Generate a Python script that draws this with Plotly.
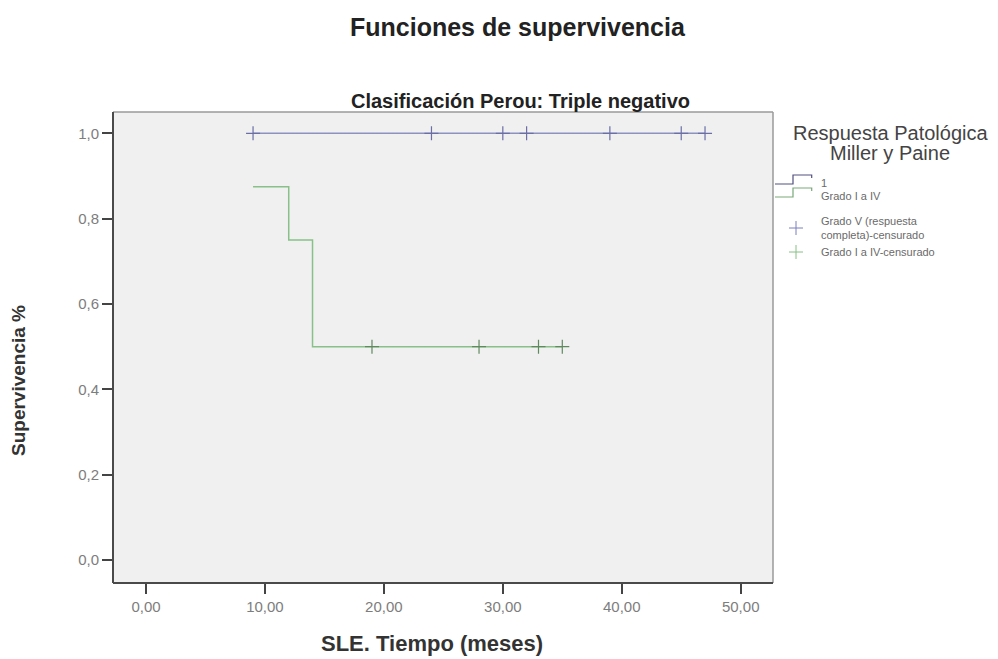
import plotly.graph_objects as go

# Kaplan-Meier curves, "Clasificación Perou: Triple negativo"
grado_v_t = [9, 47]
grado_v_s = [1.0, 1.0]
grado_v_cens_t = [9, 24, 30, 32, 39, 45, 47]

grado_iv_t = [9, 12, 14, 35]
grado_iv_s = [0.875, 0.75, 0.5, 0.5]
grado_iv_cens_t = [19, 28, 33, 35]

x_ticks = [0, 10, 20, 30, 40, 50]
y_ticks = [0.0, 0.2, 0.4, 0.6, 0.8, 1.0]

legend_title_lines = ["Respuesta Patológica", "Miller y Paine"]
legend_labels = ["1", "Grado I a IV", "Grado V (respuesta<br>completa)-censurado",
                 "Grado I a IV-censurado"]

BLUE_LINE = "#8e92bf"
BLUE_MARK = "#6b6fa6"
GREEN_LINE = "#88c088"
GREEN_MARK = "#5f8a5f"
FONT = "Liberation Sans, Arial, sans-serif"

W, H = 998, 659
L, R, T, B = 113, 225, 112, 76
PW, PH = W - L - R, H - T - B


def step_value(ts, ss, t):
    """Survival value of a right-continuous step curve at time t."""
    v = ss[0]
    for ti, si in zip(ts, ss):
        if ti <= t:
            v = si
    return v


def px(x):
    return (x - L) / PW


def py(y):
    return (H - B - y) / PH


fig = go.Figure()

fig.add_trace(go.Scatter(x=grado_v_t, y=grado_v_s, mode="lines", line_shape="hv",
                         line=dict(color=BLUE_LINE, width=1.5), hoverinfo="skip",
                         showlegend=False))
fig.add_trace(go.Scatter(x=grado_iv_t, y=grado_iv_s, mode="lines", line_shape="hv",
                         line=dict(color=GREEN_LINE, width=1.5), hoverinfo="skip",
                         showlegend=False))
fig.add_trace(go.Scatter(x=grado_v_cens_t,
                         y=[step_value(grado_v_t, grado_v_s, t) for t in grado_v_cens_t],
                         mode="markers",
                         marker=dict(symbol="cross-thin", size=10,
                                     line=dict(color=BLUE_MARK, width=1.2)),
                         showlegend=False))
fig.add_trace(go.Scatter(x=grado_iv_cens_t,
                         y=[step_value(grado_iv_t, grado_iv_s, t) for t in grado_iv_cens_t],
                         mode="markers",
                         marker=dict(symbol="cross-thin", size=10,
                                     line=dict(color=GREEN_MARK, width=1.2)),
                         showlegend=False))

x0 = (L - 146) / 11.894
x1 = (W - R - 146) / 11.894
y0 = (560 - (H - B)) / 426.7
y1 = (560 - T) / 426.7

axis_common = dict(showgrid=False, zeroline=False, ticks="outside", ticklen=10,
                   tickwidth=1.5, tickcolor="#444444",
                   tickfont=dict(family=FONT, size=15, color="#7d7d7d"),
                   showline=False)

fig.update_xaxes(range=[x0, x1], tickvals=x_ticks, tickformat=".2f", **axis_common)
fig.update_yaxes(range=[y0, y1], tickvals=y_ticks, tickformat=".1f", **axis_common)

shapes = [
    # frame: light top/right, dark left/bottom
    dict(type="line", xref="paper", yref="paper", x0=0, x1=1, y0=1, y1=1,
         line=dict(color="#9a9a9a", width=1.5)),
    dict(type="line", xref="paper", yref="paper", x0=1, x1=1, y0=0, y1=1,
         line=dict(color="#9a9a9a", width=1.5)),
    dict(type="line", xref="paper", yref="paper", x0=0, x1=0, y0=0, y1=1,
         line=dict(color="#4a4a4a", width=2)),
    dict(type="line", xref="paper", yref="paper", x0=0, x1=1, y0=0, y1=0,
         line=dict(color="#4a4a4a", width=2)),
]

# legend glyphs (step symbols and censor crosses)
def step_glyph(ybase, color):
    p = (f"M {px(775)},{py(ybase)} L {px(793)},{py(ybase)} L {px(793)},{py(ybase - 9)} "
         f"L {px(811.7)},{py(ybase - 9)} L {px(811.7)},{py(ybase - 6)}")
    return dict(type="path", xref="paper", yref="paper", path=p,
                line=dict(color=color, width=1.2))


def cross_glyph(cx, cy, color):
    return [
        dict(type="line", xref="paper", yref="paper", x0=px(cx - 7), x1=px(cx + 7),
             y0=py(cy), y1=py(cy), line=dict(color=color, width=1)),
        dict(type="line", xref="paper", yref="paper", x0=px(cx), x1=px(cx),
             y0=py(cy - 7), y1=py(cy + 7), line=dict(color=color, width=1)),
    ]


shapes.append(step_glyph(184, "#505080"))
shapes.append(step_glyph(197, "#7aa87a"))
shapes += cross_glyph(796, 228, "#7b7fc0")
shapes += cross_glyph(796, 252, "#86c086")

annotations = [
    dict(text="<b>Funciones de supervivencia</b>", x=px(518), y=py(27), xref="paper",
         yref="paper", showarrow=False, xanchor="center", yanchor="middle",
         font=dict(family=FONT, size=25, color="#222222")),
    dict(text="<b>Clasificación Perou: Triple negativo</b>", x=px(520), y=py(101),
         xref="paper", yref="paper", showarrow=False, xanchor="center", yanchor="middle",
         font=dict(family=FONT, size=20, color="#222222")),
    dict(text="<b>Supervivencia %</b>", x=px(18), y=py(380), xref="paper", yref="paper",
         showarrow=False, textangle=-90, xanchor="center", yanchor="middle",
         font=dict(family=FONT, size=19, color="#333333")),
    dict(text="<b>SLE. Tiempo (meses)</b>", x=px(432), y=py(643), xref="paper",
         yref="paper", showarrow=False, xanchor="center", yanchor="middle",
         font=dict(family=FONT, size=22, color="#333333")),
]
for line_text, yy in zip(legend_title_lines, [133, 153]):
    annotations.append(dict(text=line_text, x=px(890), y=py(yy), xref="paper",
                            yref="paper", showarrow=False, xanchor="center",
                            yanchor="middle",
                            font=dict(family=FONT, size=20, color="#444444")))

label_pos = [183, 196, 228, 252]
for lab, yy in zip(legend_labels, label_pos):
    annotations.append(dict(text=lab, x=px(819), y=py(yy), xref="paper", yref="paper",
                            showarrow=False, xanchor="left", yanchor="middle",
                            align="left",
                            font=dict(family=FONT, size=11, color="#6a6a6a")))

fig.update_layout(
    width=W, height=H,
    margin=dict(l=L, r=R, t=T, b=B),
    paper_bgcolor="white", plot_bgcolor="#f0f0f0",
    separators=",.",
    showlegend=False,
    shapes=shapes, annotations=annotations,
)

fig.write_html("out.html")
